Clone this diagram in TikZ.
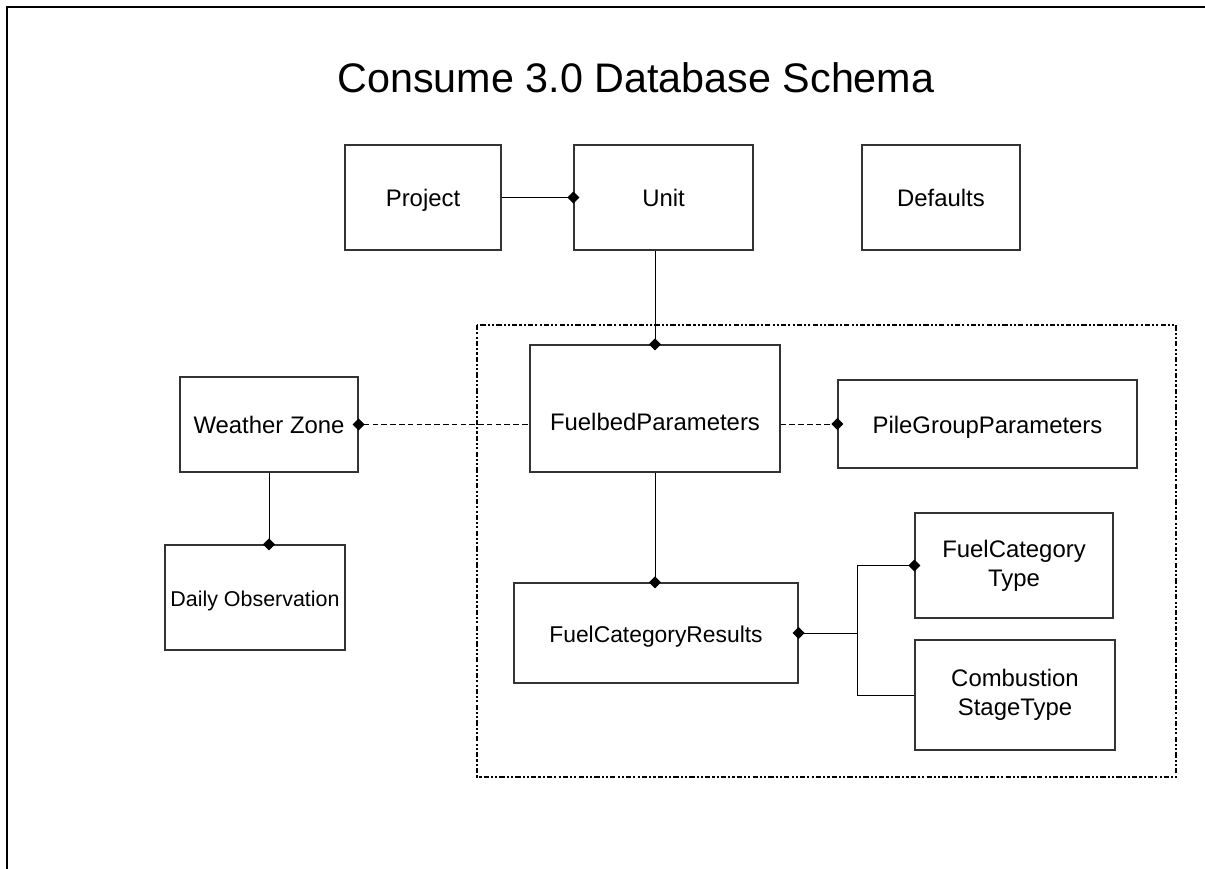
\documentclass[tikz,border=0pt]{standalone}
\usepackage{fontspec}
\setmainfont{Liberation Sans}
\usetikzlibrary{arrows.meta}
\tikzset{
  tbl/.style={draw=black!80, line width=0.6pt, align=center, inner sep=0pt,
    font=\fontsize{13.6}{16.5}\selectfont},
  onel/.style={text height=1.05em, text depth=0.02em},
  link/.style={line width=0.55pt},
  dlink/.style={line width=0.55pt, dash pattern=on 3.2pt off 1.8pt},
  dmdend/.style={-{Diamond[length=0.24cm,width=0.24cm]}, shorten >=-0.12cm},
  dmdstart/.style={{Diamond[length=0.24cm,width=0.24cm]}-, shorten <=-0.12cm}
}
\begin{document}
\begin{tikzpicture}
  \useasboundingbox (0,0) rectangle (24.1,-17.38);
  \draw[line width=1.1pt] (0.14,-17.38) -- (0.14,-0.14) -- (24.1,-0.14);
  \node[font=\fontsize{23.5}{28}\selectfont] (title) at (12.72,-1.56) {Consume 3.0 Database Schema};
  % tables
  \node[tbl, onel, minimum width=3.12cm, minimum height=2.10cm] (proj) at (8.46,-3.95) {Project};
  \node[tbl, onel, minimum width=3.58cm, minimum height=2.10cm] (unit) at (13.27,-3.95) {Unit};
  \node[tbl, onel, minimum width=3.16cm, minimum height=2.10cm] (dflt) at (18.82,-3.95) {Defaults};
  \draw[line width=1.1pt, dash pattern=on 3pt off 1.2pt on 1.2pt off 1.2pt on 1.2pt off 1.2pt]
    (9.54,-6.50) rectangle (23.52,-15.54);
  \node[tbl, onel, minimum width=3.56cm, minimum height=1.90cm] (wz) at (5.38,-8.49) {Weather Zone};
  \node[tbl, text height=2.55em, text depth=0.02em, minimum width=5.00cm, minimum height=2.54cm] (fbp) at (13.10,-8.17) {FuelbedParameters};
  \node[tbl, onel, minimum width=5.98cm, minimum height=1.76cm] (pgp) at (19.75,-8.48) {PileGroupParameters};
  \node[tbl, onel, font=\fontsize{12.2}{14}\selectfont, minimum width=3.60cm, minimum height=2.10cm] (dobs) at (5.10,-11.95) {Daily Observation};
  \node[tbl, onel, font=\fontsize{13}{16}\selectfont, minimum width=5.68cm, minimum height=2.00cm] (fcr) at (13.12,-12.66) {FuelCategoryResults};
  \node[tbl, minimum width=3.96cm, minimum height=2.10cm] (fct) at (20.28,-11.31) {FuelCategory\\Type};
  \node[tbl, minimum width=4.00cm, minimum height=2.20cm] (cst) at (20.30,-13.90) {Combustion\\StageType};
  % relations
  \draw[link, dmdend] (proj.east) -- (unit.west);
  \draw[link, dmdend] (unit.south -| fbp.north) -- (fbp.north);
  \draw[dlink, dmdstart] (wz.east) -- (wz.east -| fbp.west);
  \draw[dlink, dmdend] (fbp.east |- pgp.west) -- (pgp.west);
  \draw[link, dmdend] (wz.south) -- (wz.south |- dobs.north);
  \draw[link, dmdend] (fbp.south) -- (fbp.south |- fcr.north);
  \coordinate (jn) at (17.14,-12.66);
  \draw[link, dmdstart] (fcr.east) -- (jn);
  \draw[link, dmdend] (jn) |- (fct.west);
  \draw[link] (jn) |- (cst.west);
\end{tikzpicture}
\end{document}
